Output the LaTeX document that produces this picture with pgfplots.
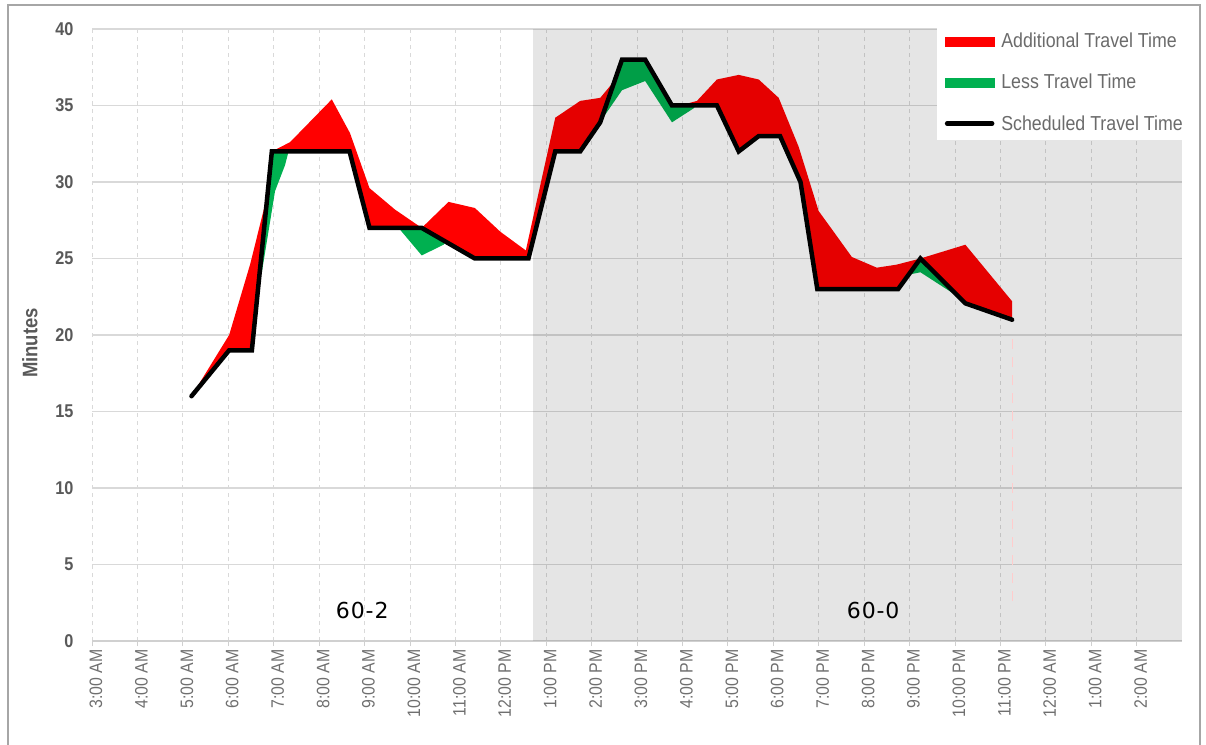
\documentclass[border=0pt]{standalone}
\usepackage{fontspec}
\setmainfont{Liberation Sans}
\newfontfamily\narrowfont{Liberation Sans}[FakeStretch=0.88]
\newfontfamily\routefont{DejaVu Sans}[LetterSpace=4]
\usepackage{pgfplots}
\pgfplotsset{compat=1.18}

\definecolor{addred}{HTML}{FF0000}
\definecolor{lessgreen}{HTML}{00B050}
\definecolor{gridgray}{HTML}{D9D9D9}
\definecolor{axisgray}{HTML}{D0D0D0}
\definecolor{framegray}{HTML}{A6A6A6}
\definecolor{ylabgray}{HTML}{595959}
\definecolor{xlabgray}{HTML}{6F6F6F}
\definecolor{leggray}{HTML}{6B6B6B}

\begin{document}
\begin{tikzpicture}
\useasboundingbox (0,0) rectangle (1206pt,744pt);
\draw[framegray, line width=1.5pt] (8pt,-20pt) -- (8pt,739pt) -- (1200pt,739pt) -- (1200pt,-20pt);
\begin{axis}[
    at={(92pt,103pt)}, anchor=south west,
    scale only axis, width=1090pt, height=612pt,
    xmin=0, xmax=24, ymin=0, ymax=40,
    xtick={0,...,23},
    xticklabels={3:00 AM,4:00 AM,5:00 AM,6:00 AM,7:00 AM,8:00 AM,9:00 AM,10:00 AM,11:00 AM,12:00 PM,1:00 PM,2:00 PM,3:00 PM,4:00 PM,5:00 PM,6:00 PM,7:00 PM,8:00 PM,9:00 PM,10:00 PM,11:00 PM,12:00 AM,1:00 AM,2:00 AM},
    ytick={0,5,...,40},
    /pgf/number format/assume math mode=true,
    xticklabel style={rotate=90, anchor=east, font=\narrowfont\fontsize{18}{18}\selectfont, text=xlabgray},
    yticklabel style={font=\narrowfont\bfseries\fontsize{18.5}{18.5}\selectfont, text=ylabgray},
    x tick label style={yshift=-4pt},
    y tick label style={xshift=-10pt},
    axis x line*=bottom, axis y line*=left,
    x axis line style={draw=axisgray, line width=1.5pt},
    y axis line style={draw=none},
    xtick style={draw=axisgray, line width=0.8pt},
    ytick style={draw=none},
    major tick length=5pt, tick align=outside,
    xmajorgrids, ymajorgrids,
    x grid style={gridgray, line width=0.8pt, dash pattern=on 4pt off 4pt},
    y grid style={gridgray, line width=1.6pt},
    ylabel={Minutes},
    every axis y label/.style={at={(axis description cs:-0.057,0.487)}, rotate=90, anchor=center,
        font=\narrowfont\bfseries\fontsize{21}{21}\selectfont, text=ylabgray},
    legend style={at={(1,1)}, anchor=north east, xshift=11pt, yshift=4pt,
        draw=none, fill=white, inner xsep=8pt, inner ysep=6pt, row sep=21pt,
        font=\narrowfont\fontsize{20.2}{20.2}\selectfont, text=leggray},
    legend cell align=left,
]

% additional travel time (actual above scheduled)
\addplot[fill=addred, draw=none, forget plot] coordinates {
    (2.19,16) (3.02,20.0) (3.48,24.6) (3.90,29.6) (3.96,32) (3.52,19) (3.02,19)} -- cycle;
\addplot[fill=addred, draw=none, forget plot] coordinates {
    (3.96,32) (4.36,32.6) (5.28,35.4) (5.68,33.2) (6.11,29.6) (6.67,28.2) (7.26,27.0)
    (6.11,27) (5.67,32)} -- cycle;
\addplot[fill=addred, draw=none, forget plot] coordinates {
    (7.26,27) (7.85,28.7) (8.43,28.3) (8.99,26.75) (9.61,25.4) (9.61,25) (8.43,25)} -- cycle;
\addplot[fill=addred, draw=none, forget plot] coordinates {
    (9.55,25.5) (10.2,34.2) (10.75,35.3) (11.19,35.5) (11.5,36.6)
    (11.19,33.9) (10.75,32) (10.2,32) (9.61,25)} -- cycle;
\addplot[fill=addred, draw=none, forget plot] coordinates {
    (12.95,35) (13.32,35.3) (13.76,36.7) (14.24,37.0) (14.68,36.7) (15.12,35.5)
    (15.56,32.3) (16.0,28.1) (16.33,26.75) (16.73,25.1) (17.28,24.4) (17.72,24.6) (18.24,25.0)
    (17.75,23) (15.97,23) (15.6,30) (15.15,33) (14.68,33) (14.24,32) (13.76,35)} -- cycle;
\addplot[fill=addred, draw=none, forget plot] coordinates {
    (18.24,25) (19.23,25.9) (20.26,22.2) (20.26,21) (19.23,22.07)} -- cycle;

% less travel time (actual below scheduled)
\addplot[fill=lessgreen, draw=none, forget plot] coordinates {
    (3.96,32) (4.32,31.9) (4.25,31.1) (4.03,29.4) (3.74,24.1) (3.70,24.3)} -- cycle;
\addplot[fill=lessgreen, draw=none, forget plot] coordinates {
    (6.75,27) (7.26,25.2) (7.74,25.9) (7.80,26.08) (7.26,27)} -- cycle;
\addplot[fill=lessgreen, draw=none, forget plot] coordinates {
    (11.22,34.16) (11.3,34.4) (11.67,36.0) (12.18,36.6) (12.77,33.9) (13.24,34.8) (13.3,35)
    (12.77,35) (12.18,38) (11.67,38)} -- cycle;
\addplot[fill=lessgreen, draw=none, forget plot] coordinates {
    (17.98,23.94) (18.24,24.1) (18.97,22.7) (19.12,22.4) (18.24,25)} -- cycle;

% route 60-0 shading
\addplot[fill=black, fill opacity=0.1, draw=none, forget plot] coordinates {
    (9.71,0) (24,0) (24,40) (9.71,40)} -- cycle;
\addplot[draw=red!20, line width=1pt, dash pattern=on 10pt off 8pt, forget plot] coordinates {
    (20.26,2.6) (20.26,19.8)};

% scheduled travel time
\addplot[black, line width=4.5pt, line join=miter, line cap=round, forget plot] coordinates {
    (2.19,16) (3.02,19) (3.52,19) (3.96,32) (5.67,32) (6.11,27) (7.26,27) (8.43,25)
    (9.61,25) (10.2,32) (10.75,32) (11.19,33.9) (11.67,38) (12.18,38) (12.77,35)
    (13.76,35) (14.24,32) (14.68,33) (15.15,33) (15.6,30) (15.97,23) (17.75,23)
    (18.24,25) (19.23,22.07) (20.26,21)};

\node[font=\routefont\fontsize{22}{22}\selectfont] at (axis cs:5.95,2.0) {60-2};
\node[font=\routefont\fontsize{22}{22}\selectfont] at (axis cs:17.2,2.0) {60-0};

\addlegendimage{legend image code/.code={\fill[addred] (0pt,-4.5pt) rectangle (49pt,4.5pt); \path (54pt,0pt);}}
\addlegendentry{Additional Travel Time}
\addlegendimage{legend image code/.code={\fill[lessgreen] (0pt,-4.5pt) rectangle (49pt,4.5pt); \path (54pt,0pt);}}
\addlegendentry{Less Travel Time}
\addlegendimage{legend image code/.code={\draw[black, line width=4.5pt, line cap=round] (2pt,0pt) -- (47pt,0pt); \path (54pt,0pt);}}
\addlegendentry{Scheduled Travel Time}
\end{axis}
\end{tikzpicture}
\end{document}
